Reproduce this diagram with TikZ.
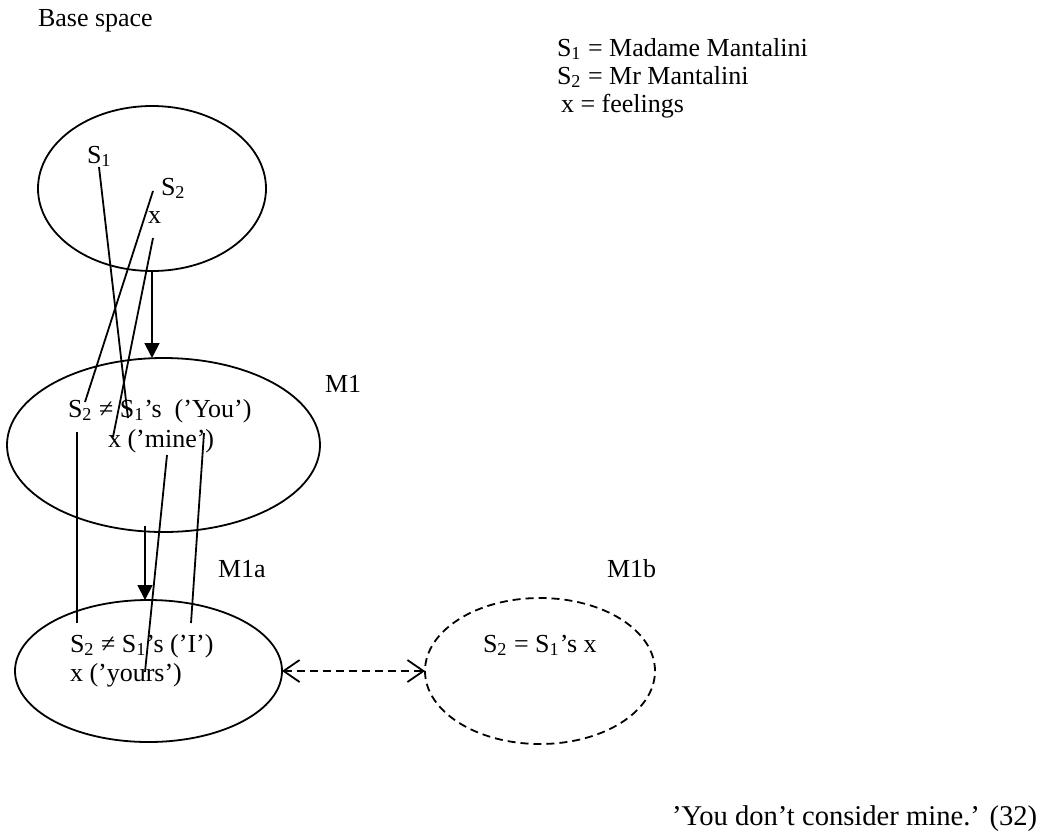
\documentclass[tikz,border=0pt]{standalone}
\usepackage{fontspec}
\setmainfont{Liberation Serif}
\usetikzlibrary{shapes.geometric,arrows.meta}
\begin{document}
\begin{tikzpicture}[x=0.5pt,y=-0.5pt,
  space/.style={draw,ellipse,line width=0.9pt,inner sep=0pt,outer sep=0pt},
  hypo/.style={space,dash pattern=on 4pt off 2.5pt},
  lbl/.style={anchor=base west,inner sep=0pt,outer sep=0pt,font=\fontsize{13}{15}\selectfont},
  quote/.style={anchor=base west,inner sep=0pt,outer sep=0pt,font=\fontsize{14.3}{17}\selectfont},
  link/.style={line width=0.9pt},
  maparrow/.style={line width=0.9pt,-{Triangle[length=7.5pt,width=7.5pt]}},
  altarrow/.style={line width=0.9pt,dash pattern=on 4pt off 2.5pt,
    {Straight Barb[length=8pt,width=11pt]}-{Straight Barb[length=8pt,width=11pt]}}]
\useasboundingbox (0,0) rectangle (1042,835);

% mental spaces
\node[space,minimum width=114pt,minimum height=82.5pt] (base) at (152,188.5) {};
\node[space,minimum width=156.5pt,minimum height=87pt] (m1) at (163.5,445) {};
\node[space,minimum width=133.5pt,minimum height=71pt] (m1a) at (148.5,671) {};
\node[hypo,minimum width=115pt,minimum height=73pt] (m1b) at (540,671) {};

% headings and legend
\node[lbl] (basettl) at (38,26) {Base space};
\node[lbl] (leg1) at (557,56) {S\textsubscript{1} = Madame Mantalini};
\node[lbl] (leg2) at (557,84) {S\textsubscript{2} = Mr Mantalini};
\node[lbl] (leg3) at (561,112) {x = feelings};
\node[lbl] (m1ttl) at (325,392) {M1};
\node[lbl] (m1attl) at (218,577) {M1a};
\node[lbl] (m1bttl) at (607,577) {M1b};

% elements of the base space
\node[lbl] (bs1) at (87,163) {S\textsubscript{1}};
\node[lbl] (bs2) at (161,195) {S\textsubscript{2}};
\node[lbl] (bx) at (148,223) {x};

% contents of M1, M1a, M1b
\node[lbl] (m1l1) at (68,417) {S\textsubscript{2} ≠ S\textsubscript{1}’s~~(’You’)};
\node[lbl] (m1l2) at (108,447) {x (’mine’)};
\node[lbl] (m1al1) at (70,652) {S\textsubscript{2} ≠ S\textsubscript{1}’s (’I’)};
\node[lbl] (m1al2) at (70,681) {x (’yours’)};
\node[lbl] (m1bl1) at (483,652) {S\textsubscript{2} = S\textsubscript{1}’s x};

\node[quote] (src) at (672,825) {’You don’t consider mine.’ (32)};

% end points of the counterpart links
\coordinate (s1b) at (99,167);   \coordinate (s1m) at (128,418);
\coordinate (s2b) at (153,191);  \coordinate (s2m) at (85,402);
\coordinate (xb) at (153,238);   \coordinate (xm) at (113,437);
\coordinate (s2m1) at (77,432);  \coordinate (s2ma) at (77,623);
\coordinate (xm1) at (167,455);  \coordinate (xma) at (145,672);
\coordinate (you) at (204,433);  \coordinate (ii) at (191,623);
\coordinate (drop) at (145,526);

% counterpart links
\draw[link] (s1b) -- (s1m);
\draw[link] (s2b) -- (s2m);
\draw[link] (xb) -- (xm);
\draw[link] (s2m1) -- (s2ma);
\draw[link] (xm1) -- (xma);
\draw[link] (you) -- (ii);

% space-building arrows
\draw[maparrow] (base.south) -- (base.south |- m1.north);
\draw[maparrow] (drop) -- (drop |- m1a.north);
\draw[altarrow] (m1a.east) -- (m1b.west);
\end{tikzpicture}
\end{document}
